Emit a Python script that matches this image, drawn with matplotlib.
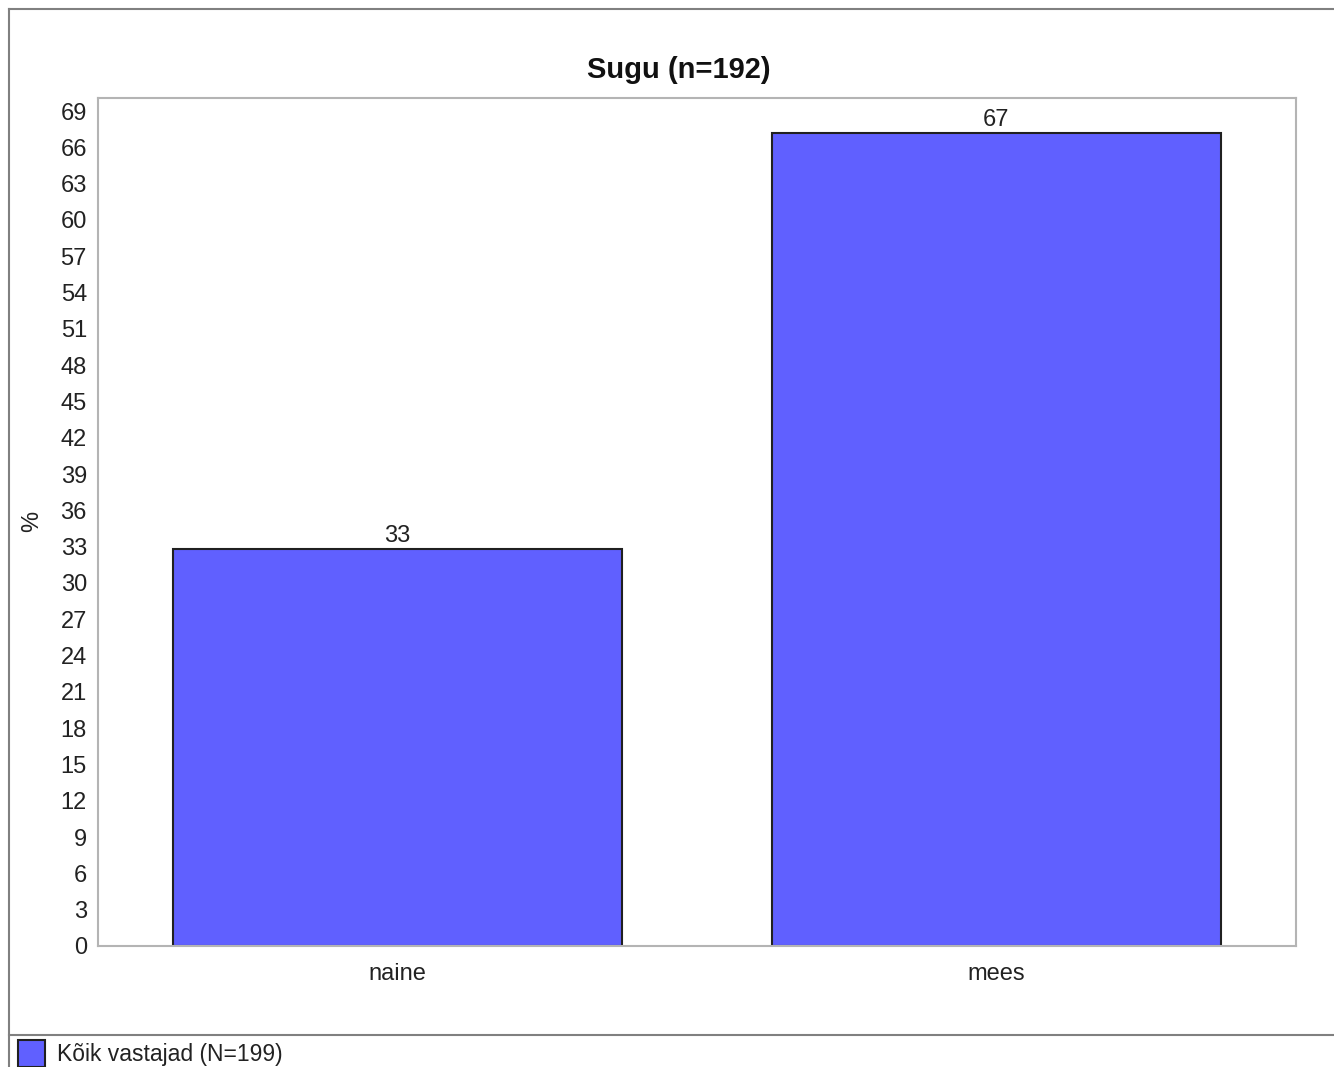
import matplotlib.pyplot as plt
import matplotlib.patches as mpatches
from matplotlib.lines import Line2D

categories = ["naine", "mees"]
values = [32.8, 67.2]
value_labels = ["33", "67"]
yticks = list(range(0, 70, 3))

title = "Sugu (n=192)"
legend_label = "Kõik vastajad (N=199)"
bar_color = "#6060ff"

plt.rcParams['font.family'] = ['Liberation Sans', 'DejaVu Sans']

fig = plt.figure(figsize=(13.34, 10.67), dpi=100)
W, H = 1334, 1067

ax = fig.add_axes([98 / W, 1 - 946 / H, (1296 - 98) / W, (946 - 98) / H])
x = list(range(len(categories)))
bars = ax.bar(x, values, width=0.75, color=bar_color, edgecolor="#202020", linewidth=1.5)
ax.set_xlim(-0.5, 1.5)
ax.set_ylim(0, 70.08)
ax.set_yticks(yticks)
ax.set_yticklabels([str(t) for t in yticks], fontsize=17, color="#222222")
ax.set_xticks(x)
ax.set_xticklabels(categories, fontsize=17, color="#222222")
ax.tick_params(length=0, pad=8)
ax.tick_params(axis='x', pad=12)
for s in ax.spines.values():
    s.set_color("#b4b4b4")
    s.set_linewidth(1.5)

for rect, lab in zip(bars, value_labels):
    ax.text(rect.get_x() + rect.get_width() / 2, rect.get_height() + 0.15, lab,
            ha="center", va="bottom", fontsize=17, color="#222222")

fig.text(679 / W, 1 - 70 / H, title, ha="center", va="center",
         fontsize=21, fontweight="bold", color="#111111")
fig.text(32 / W, 1 - 521 / H, "%", rotation=90, ha="center", va="center",
         fontsize=17, color="#222222")

# outer frame and legend separator
fig.add_artist(Line2D([9 / W, 1.0], [1 - 9 / H, 1 - 9 / H], transform=fig.transFigure,
                      color="#808080", linewidth=1.5))
fig.add_artist(Line2D([9 / W, 9 / W], [0, 1 - 9 / H], transform=fig.transFigure,
                      color="#808080", linewidth=1.5))
fig.add_artist(Line2D([9 / W, 1.0], [1 - 1035 / H, 1 - 1035 / H], transform=fig.transFigure,
                      color="#808080", linewidth=1.5))

# legend entry
fig.add_artist(mpatches.Rectangle((18 / W, 1 - 1067 / H), 27 / W, 27 / H,
                                  transform=fig.transFigure, facecolor=bar_color,
                                  edgecolor="#202020", linewidth=1.5))
fig.text(57 / W, 1 - 1055 / H, legend_label, ha="left", va="center",
         fontsize=16.5, color="#222222")

fig.savefig("out.png", dpi=100)
